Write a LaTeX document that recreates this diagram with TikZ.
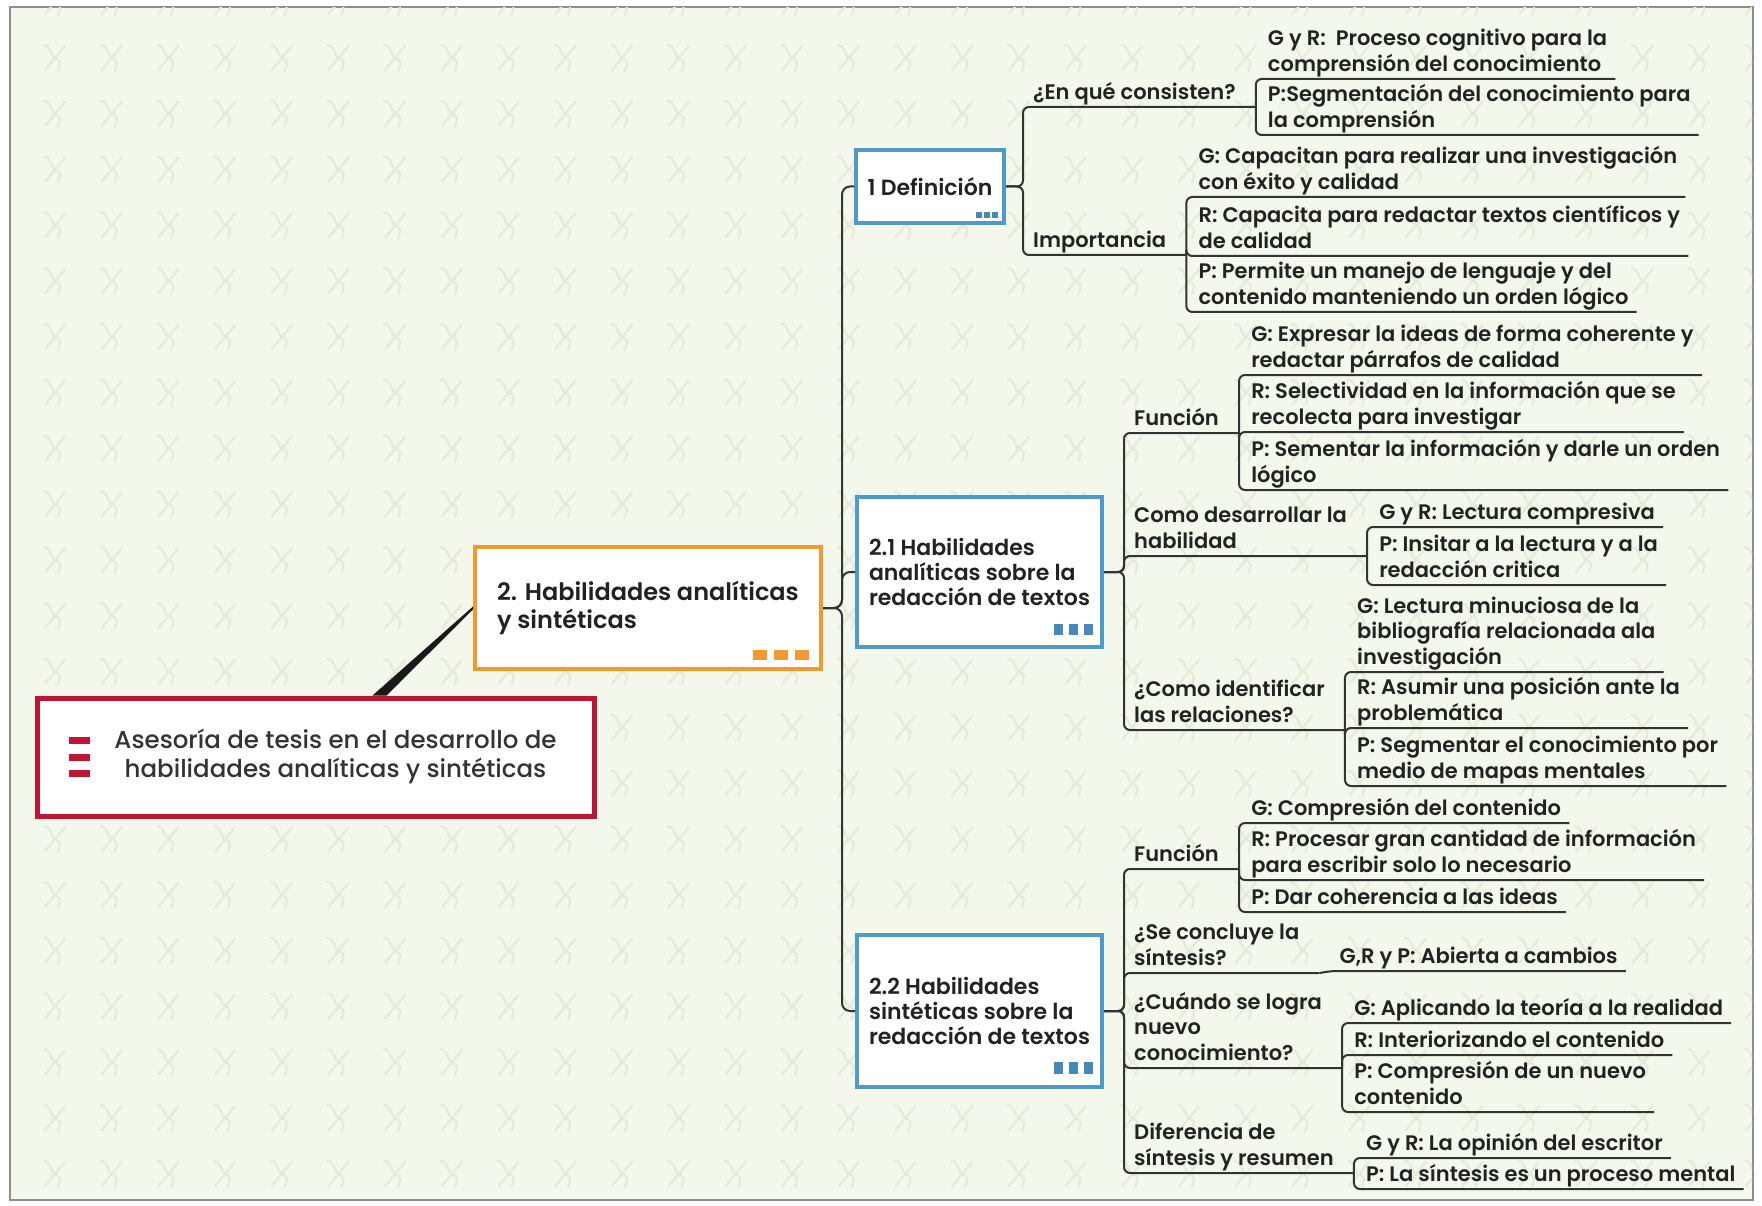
\documentclass[tikz,border=0pt]{standalone}
\usepackage{fontspec}
\setmainfont{Poppins}[UprightFont=* Medium, BoldFont=* SemiBold]
\definecolor{paper}{HTML}{F4F8EC}
\definecolor{motif}{HTML}{E6EADB}
\definecolor{rim}{HTML}{8E8E8E}
\definecolor{crimson}{HTML}{BE1630}
\definecolor{tangerine}{HTML}{F29A2E}
\definecolor{sky}{HTML}{4C9BC8}
\definecolor{skydot}{HTML}{4589BA}
\definecolor{ink}{HTML}{222222}
\definecolor{rootink}{HTML}{333333}
\definecolor{wire}{HTML}{333333}
\newcommand\leaffont{\bfseries\fontsize{21}{25.5}\selectfont}
\newcommand\topicfont{\bfseries\fontsize{22}{25}\selectfont}
\newcommand\habfont{\bfseries\fontsize{24}{28}\selectfont}
\newcommand\rootfont{\fontsize{24.5}{29}\selectfont}
\tikzset{
 link/.style={draw=wire,line width=2pt,rounded corners=6pt},
 motifline/.style={draw=motif,line width=2.2pt,line cap=round},
 topic/.style={draw=sky,line width=4pt,fill=white,align=left,inner xsep=4pt,font=\topicfont,text=ink},
 cat/.style={anchor=south west,align=left,inner xsep=6pt,inner ysep=0pt,font=\leaffont,text=ink,execute at end node=\strut},
 leaf/.style={cat,inner xsep=8pt}
}
\begin{document}
\begin{tikzpicture}[x=1pt,y=-1pt]
 \useasboundingbox (0,0) rectangle (1762,1206);
 \fill[white] (0,0) rectangle (1762,1206);
 \filldraw[fill=paper,draw=rim,line width=2pt] (10,7) rectangle (1753,1200);
 \begin{scope}
  \clip (11,8) rectangle (1752,1199);
  \foreach \i in {0,...,31} \foreach \j in {0,...,21} {
   \begin{scope}[shift={(-1.7+56.7*\i,2.2+55.8*\j)}]
    \draw[motifline] (-11,-13) .. controls (-3,-12) and (-5,-3) .. (0,0) -- (10,-12);
    \draw[motifline] (-10,12) -- (0,0) .. controls (6,3) .. (3,13);
   \end{scope}
  }
 \end{scope}
 \node[draw=crimson,line width=5pt,fill=white,minimum width=557pt,minimum height=118pt,font=\rootfont,text=rootink] (root) at (315.5,757)
  {\hspace*{40pt}\begin{tabular}{@{}c@{}}Asesoría de tesis en el desarrollo de\\habilidades analíticas y sintéticas\end{tabular}};
 \foreach \dy in {-16.5,0,16.5} \fill[crimson] (root.west) ++(34,\dy-3.5) rectangle ++(21,7);
 \node[draw=tangerine,line width=4pt,fill=white,minimum width=346pt,minimum height=122pt,align=left,font=\habfont,text=ink] (hab) at (648,608)
  {2. Habilidades analíticas\\y sintéticas};
 \foreach \dx in {-70,-49,-28} \fill[tangerine] (hab.south east) ++(\dx,-21) rectangle ++(14,10);
 \node[topic,minimum width=148pt,minimum height=73pt] (def) at (930,186.5) {1 Definición};
 \foreach \dx in {-30,-22,-14} \fill[skydot] (def.south east) ++(\dx,-13) rectangle ++(6,6);
 \node[topic,minimum width=245pt,minimum height=150pt] (ana) at (979.5,572) {2.1 Habilidades\\analíticas sobre la\\redacción de textos};
 \foreach \dx in {-50,-35,-20} \fill[skydot] (ana.south east) ++(\dx,-25) rectangle ++(9,11);
 \node[topic,minimum width=245pt,minimum height=152pt] (sin) at (979.5,1011) {2.2 Habilidades\\sintéticas sobre la\\redacción de textos};
 \foreach \dx in {-50,-35,-20} \fill[skydot] (sin.south east) ++(\dx,-27) rectangle ++(9,12);
 \fill[black!90] ([xshift=57pt]root.north) -- ([yshift=1.5pt]hab.west) -- ([yshift=-1.5pt]hab.west) -- ([xshift=71pt]root.north) -- cycle;
 \foreach \t in {def,ana,sin} \draw[link,rounded corners=8pt] (hab.east) -- ++(19,0) |- (\t.west);

 \node[cat,xshift=21pt] (enq) at (def.east |- 0,107) {¿En qué consisten?};
 \node[cat,xshift=21pt] (imp) at (def.east |- 0,255) {Importancia};
 \node[cat,xshift=24pt] (fa) at (ana.east |- 0,433) {Función};
 \node[cat,xshift=24pt] (como) at (ana.east |- 0,556) {Como desarrollar la\\habilidad};
 \node[cat,xshift=24pt] (ident) at (ana.east |- 0,730) {¿Como identificar\\las relaciones?};
 \node[cat,xshift=24pt] (fs) at (sin.east |- 0,869) {Función};
 \node[cat,xshift=24pt] (conc) at (sin.east |- 0,973) {¿Se concluye la\\síntesis?};
 \node[cat,xshift=24pt] (cuando) at (sin.east |- 0,1068) {¿Cuándo se logra\\nuevo\\conocimiento?};
 \node[cat,xshift=24pt] (dif) at (sin.east |- 0,1173) {Diferencia de\\síntesis y resumen};
 \foreach \c in {enq,imp,fa,como,ident,fs,conc,cuando,dif} \coordinate (\c-e) at ([xshift=14pt]\c.south east);
 \foreach \c in {enq,imp} \draw[link] (def.east) -- ++(17,0) |- (\c-e);
 \foreach \c in {fa,como,ident} \draw[link] (ana.east) -- ++(20,0) |- (\c-e);
 \foreach \c in {fs,conc,cuando,dif} \draw[link] (sin.east) -- ++(20,0) |- (\c-e);

 \node[leaf,xshift=4pt] (enq-g) at (enq-e |- 0,79) {G y R:\ \ Proceso cognitivo para la\\comprensión del conocimiento};
 \node[leaf,xshift=4pt] (enq-p) at (enq-e |- 0,135) {P:Segmentación del conocimiento para\\la comprensión};
 \node[leaf,xshift=4pt] (imp-g) at (imp-e |- 0,197) {G: Capacitan para realizar una investigación\\con éxito y calidad};
 \node[leaf,xshift=4pt] (imp-r) at (imp-e |- 0,256) {R: Capacita para redactar textos científicos y\\de calidad};
 \node[leaf,xshift=4pt] (imp-p) at (imp-e |- 0,312) {P: Permite un manejo de lenguaje y del\\contenido manteniendo un orden lógico};
 \node[leaf,xshift=4pt] (fa-g) at (fa-e |- 0,375) {G: Expresar la ideas de forma coherente y\\redactar párrafos de calidad};
 \node[leaf,xshift=4pt] (fa-r) at (fa-e |- 0,432) {R: Selectividad en la información que se\\recolecta para investigar};
 \node[leaf,xshift=4pt] (fa-p) at (fa-e |- 0,490) {P: Sementar la información y darle un orden\\lógico};
 \node[leaf,xshift=4pt] (como-g) at (como-e |- 0,527) {G y R: Lectura compresiva};
 \node[leaf,xshift=4pt] (como-p) at (como-e |- 0,585) {P: Insitar a la lectura y a la\\redacción critica};
 \node[leaf,xshift=4pt] (ident-g) at (ident-e |- 0,672) {G: Lectura minuciosa de la\\bibliografía relacionada ala\\investigación};
 \node[leaf,xshift=4pt] (ident-r) at (ident-e |- 0,728) {R: Asumir una posición ante la\\problemática};
 \node[leaf,xshift=4pt] (ident-p) at (ident-e |- 0,786) {P: Segmentar el conocimiento por\\medio de mapas mentales};
 \node[leaf,xshift=4pt] (fs-g) at (fs-e |- 0,823) {G: Compresión del contenido};
 \node[leaf,xshift=4pt] (fs-r) at (fs-e |- 0,880) {R: Procesar gran cantidad de información\\para escribir solo lo necesario};
 \node[leaf,xshift=4pt] (fs-p) at (fs-e |- 0,912) {P: Dar coherencia a las ideas};
 \node[leaf,xshift=12pt] (conc-g) at (conc-e |- 0,971) {G,R y P: Abierta a cambios};
 \node[leaf,xshift=4pt] (cuando-g) at (cuando-e |- 0,1023) {G: Aplicando la teoría a la realidad};
 \node[leaf,xshift=4pt] (cuando-r) at (cuando-e |- 0,1055) {R: Interiorizando el contenido};
 \node[leaf,xshift=4pt] (cuando-p) at (cuando-e |- 0,1112) {P: Compresión de un nuevo\\contenido};
 \node[leaf,xshift=4pt] (dif-g) at (dif-e |- 0,1158) {G y R: La opinión del escritor};
 \node[leaf,xshift=4pt] (dif-p) at (dif-e |- 0,1189) {P: La síntesis es un proceso mental};
 \foreach \p/\l in {enq/enq-g,enq/enq-p,imp/imp-g,imp/imp-r,imp/imp-p,fa/fa-g,fa/fa-r,fa/fa-p,como/como-g,como/como-p,
  ident/ident-g,ident/ident-r,ident/ident-p,fs/fs-g,fs/fs-r,fs/fs-p,cuando/cuando-g,cuando/cuando-r,cuando/cuando-p,dif/dif-g,dif/dif-p}
  \draw[link] (\p-e) |- (\l.south east);
 \draw[link] (conc-e) -- (conc-g.south west) -- (conc-g.south east);
\end{tikzpicture}
\end{document}
